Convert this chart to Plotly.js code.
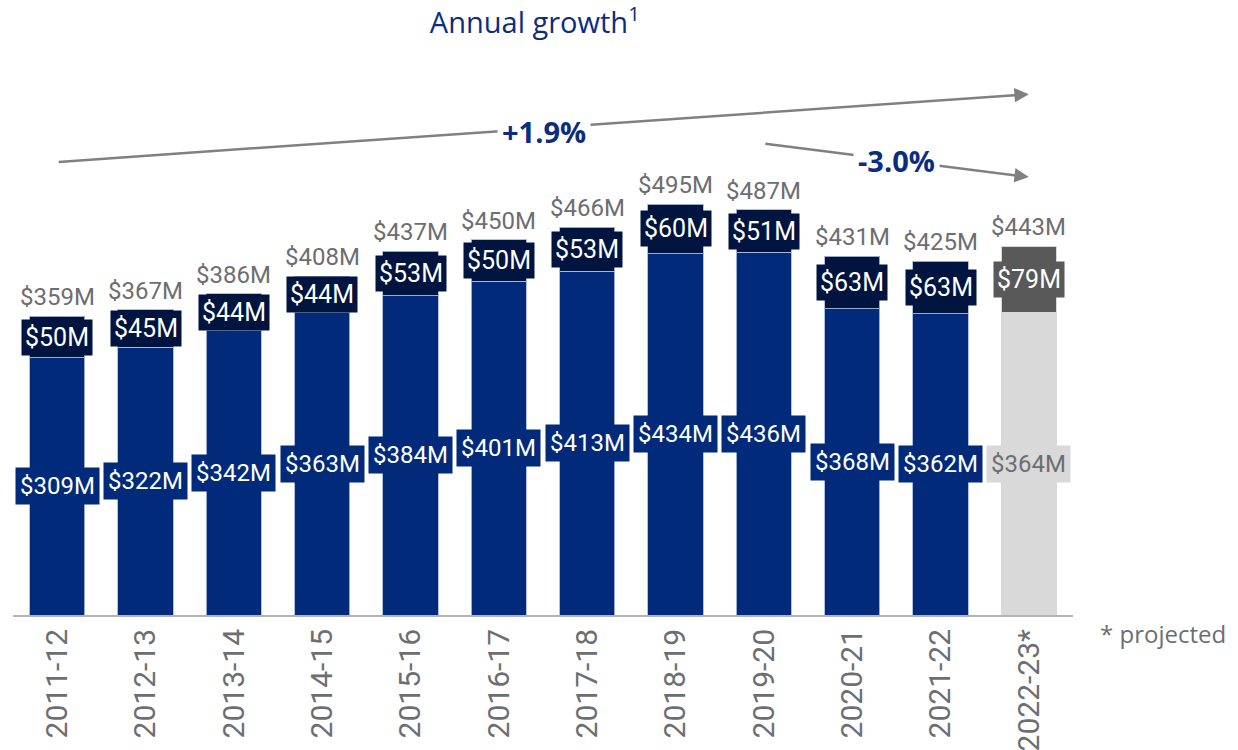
<!DOCTYPE html>
<html>
<head>
<meta charset="utf-8">
<script src="https://cdn.plot.ly/plotly-3.0.1.min.js"></script>
<style>html,body{margin:0;padding:0;background:#fff;}#chart{width:1238px;height:750px;}</style>
</head>
<body>
<div id="chart"></div>
<script>
// ---- data ----
const categories = ['2011-12','2012-13','2013-14','2014-15','2015-16','2016-17','2017-18','2018-19','2019-20','2020-21','2021-22','2022-23*'];
const baseValues = [309,322,342,363,384,401,413,434,436,368,362,364];
const topValues = [50,45,44,44,53,50,53,60,51,63,63,79];
const totalValues = [359,367,386,408,437,450,466,495,487,431,425,443];
const projected = [false,false,false,false,false,false,false,false,false,false,false,true];
const growthLong = '+1.9%';
const growthShort = '-3.0%';

// ---- styles ----
const NAVY = '#012a7b', DARK = '#001440', LGRAY = '#d9d9d9', DGRAY = '#595959', TXTGRAY = '#6d6e71', TITLEBLUE = '#0b2d80';
const baseColors = projected.map(p => p ? LGRAY : NAVY);
const topColors = projected.map(p => p ? DGRAY : DARK);
const lineColors = projected.map(p => p ? LGRAY : 'rgba(170,185,220,0.9)');
const labelFont = 'Roboto, "Open Sans", sans-serif';

const traces = [
  {type:'bar', x:categories, y:baseValues, marker:{color:baseColors, line:{color:lineColors, width:1}}, hoverinfo:'skip'},
  {type:'bar', x:categories, y:topValues, marker:{color:topColors, line:{color:lineColors, width:1}}, hoverinfo:'skip'}
];

const annotations = [];
// arrows (tail at category index -> head at category index)
const arrowStyle = {showarrow:true, arrowhead:2, arrowsize:1.15, arrowwidth:2.5, arrowcolor:'#808080', standoff:0, startstandoff:0, text:'', xref:'x', yref:'y', axref:'x', ayref:'y'};
annotations.push(Object.assign({}, arrowStyle, {x:11, y:626, ax:0, ay:544.5}));
annotations.push(Object.assign({}, arrowStyle, {x:11, y:526.4, ax:8, ay:566.7}));

categories.forEach((c, i) => {
  const b = baseValues[i], t = topValues[i];
  annotations.push({x:c, y:b/2, xref:'x', yref:'y', text:'$'+b+'M', showarrow:false,
    font:{family:labelFont, size:24, color: projected[i] ? TXTGRAY : '#ffffff'}, bgcolor:baseColors[i], borderpad:4});
  annotations.push({x:c, y:b + t/2, xref:'x', yref:'y', text:'$'+t+'M', showarrow:false,
    font:{family:labelFont, size:25, color:'#ffffff'}, bgcolor:topColors[i], borderpad:3});
  annotations.push({x:c, y:b + t, xref:'x', yref:'y', text:'$'+totalValues[i]+'M', showarrow:false, yanchor:'bottom', yshift:3,
    font:{family:labelFont, size:24, color:TXTGRAY}});
});

// growth labels over arrows
annotations.push({x:5.51, y:581, xref:'x', yref:'y', text:'<b>'+growthLong+'</b>', showarrow:false, bgcolor:'#ffffff', borderpad:4,
  font:{family:'"Open Sans", sans-serif', size:29, color:TITLEBLUE}});
annotations.push({x:9.5, y:546, xref:'x', yref:'y', text:'<b>'+growthShort+'</b>', showarrow:false, bgcolor:'#ffffff', borderpad:4,
  font:{family:'"Open Sans", sans-serif', size:29, color:TITLEBLUE}});
// footnote
annotations.push({x:1.0236, y:-0.03, xref:'paper', yref:'paper', xanchor:'left', yanchor:'middle', text:'* projected', showarrow:false,
  font:{family:'"Open Sans", sans-serif', size:24, color:TXTGRAY}});

const layout = {
  width:1238, height:750,
  margin:{l:13, r:165, t:0, b:135},
  paper_bgcolor:'#ffffff', plot_bgcolor:'#ffffff',
  barmode:'stack', bargap:0.377,
  showlegend:false,
  title:{text:'Annual growth<sup>1</sup>', xref:'container', yref:'container', x:0.432, xanchor:'center', y:0.969, yanchor:'middle',
    font:{family:'"Open Sans", sans-serif', size:29, color:TITLEBLUE}},
  xaxis:{type:'category', showline:true, linecolor:'#b3b3b3', linewidth:2, ticks:'', tickangle:-90,
    tickfont:{family:'Roboto, sans-serif', size:30, color:TXTGRAY}, showgrid:false, zeroline:false, fixedrange:true},
  yaxis:{visible:false, range:[0, 739.2], showgrid:false, zeroline:false, fixedrange:true},
  annotations:annotations
};

Plotly.newPlot('chart', traces, layout, {staticPlot:true, displayModeBar:false});
</script>
</body>
</html>
